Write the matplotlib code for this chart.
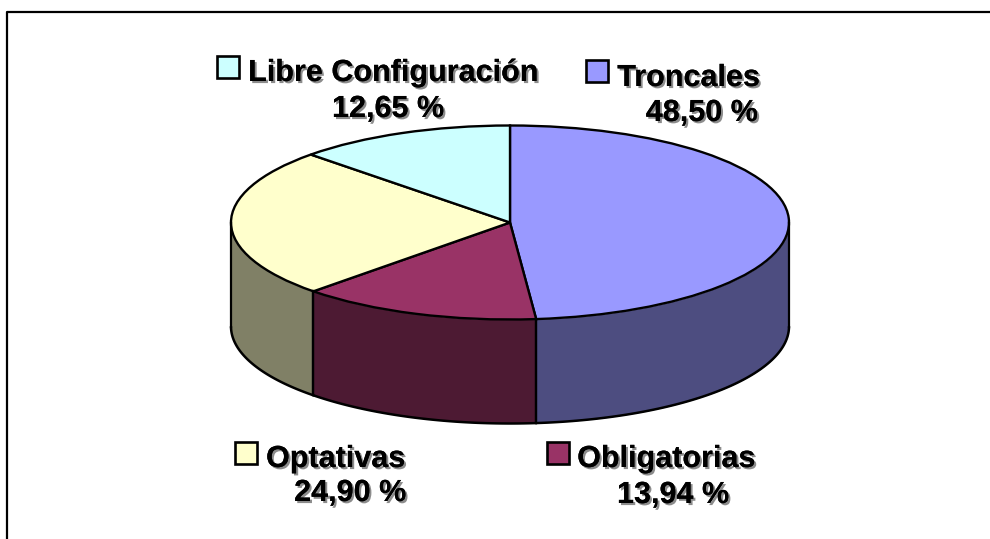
import numpy as np
import matplotlib
matplotlib.use("Agg")
import matplotlib.pyplot as plt
import matplotlib.patheffects as pe
from matplotlib.patches import Rectangle

W, H = 990, 539

# Data
categories = ["Troncales", "Obligatorias", "Optativas", "Libre Configuración"]
percent = [48.50, 13.94, 24.90, 12.65]
percent_labels = ["48,50 %", "13,94 %", "24,90 %", "12,65 %"]
top_colors = ["#9999FF", "#993366", "#FFFFCC", "#CCFFFF"]
side_colors = ["#4D4D80", "#4D1A33", "#808066", "#668080"]

plt.rcParams["font.family"] = ["Liberation Sans", "DejaVu Sans"]

fig = plt.figure(figsize=(W / 100, H / 100), dpi=100, facecolor="white")

# page layer in pixel coords
bg = fig.add_axes([0, 0, 1, 1])
bg.set_xlim(0, W)
bg.set_ylim(H, 0)
bg.axis("off")
bg.plot([7, 7, W + 5], [H + 5, 12, 12], color="black", lw=1.6, clip_on=False)

# pie squashed into an ellipse by the axes shape
cx, cy, rx, ry, depth = 510, 222.5, 279, 97, 104
ax = fig.add_axes([(cx - rx) / W, 1 - (cy + ry) / H, 2 * rx / W, 2 * ry / H])

cum = np.concatenate([[0], np.cumsum(percent)]) / sum(percent) * 360
d = depth / ry
for i in range(len(percent)):
    a0 = max(cum[i], 90)
    a1 = min(cum[i + 1], 270)
    if a1 <= a0:
        continue
    t = np.radians(np.linspace(a0, a1, 80))
    x = np.sin(t)
    y = np.cos(t)
    ax.fill_between(x, y, y - d, color=side_colors[i], lw=0, clip_on=False)
    ax.plot(x, y - d, color="black", lw=1.8, clip_on=False, solid_capstyle="round")
    for xe, ye in ((x[0], y[0]), (x[-1], y[-1])):
        ax.plot([xe, xe], [ye, ye - d], color="black", lw=1.6, clip_on=False)

ax.pie(percent, colors=top_colors, startangle=90, counterclock=False, radius=1,
       wedgeprops={"edgecolor": "black", "linewidth": 1.7, "clip_on": False})
ax.set_aspect("auto")
ax.set_xlim(-1, 1)
ax.set_ylim(-1, 1)
ax.axis("off")

# labels with their keys
shadow = [pe.withSimplePatchShadow(offset=(1.5, -1.5), shadow_rgbFace="#8c8c8c", alpha=1), pe.Normal()]
# swatch x, swatch y, name right edge, name y, value right edge, value y
spots = [
    (586, 60, 760, 78, 758, 113),
    (547, 442, 755, 459, 729, 495),
    (235, 442, 405, 459, 406, 493),
    (217, 56, 538, 73, 444, 109),
]
for i, (sx, sy, nx, ny, vx, vy) in enumerate(spots):
    bg.add_patch(Rectangle((sx, sy), 22, 22, facecolor=top_colors[i], edgecolor="black", lw=1.9))
    bg.text(nx, ny, categories[i], ha="right", va="center", fontsize=22, fontweight="bold",
            path_effects=shadow)
    bg.text(vx, vy, percent_labels[i], ha="right", va="center", fontsize=22, fontweight="bold",
            path_effects=shadow)

fig.savefig("out.png", dpi=100)
